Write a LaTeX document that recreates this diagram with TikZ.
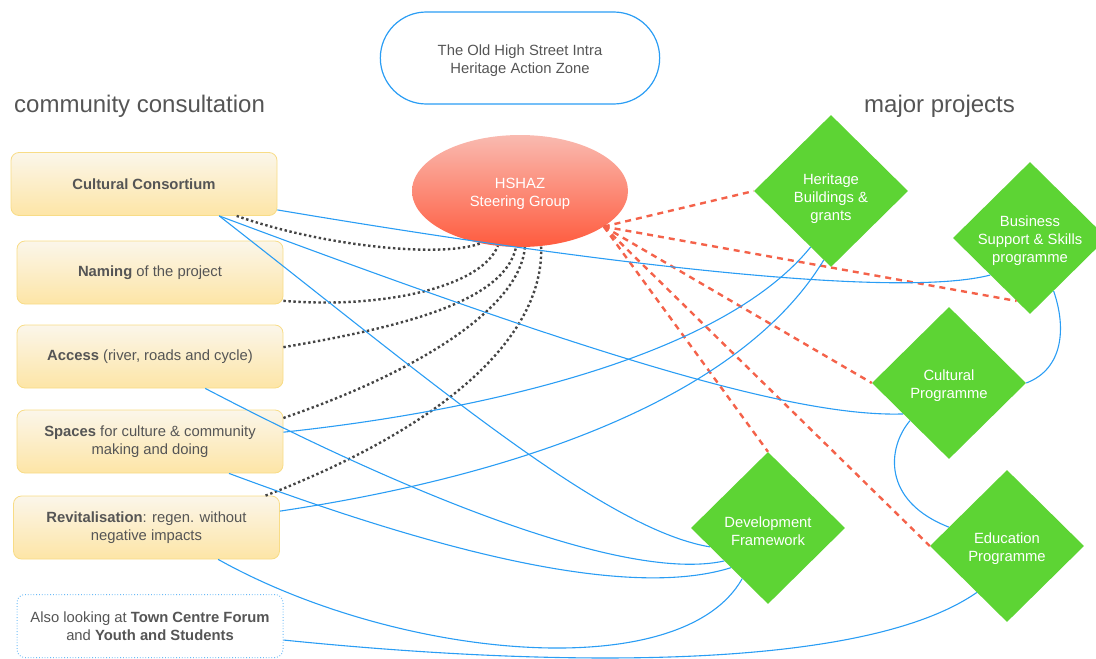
\documentclass[tikz,border=0pt]{standalone}
\usepackage{fontspec}
\setmainfont{Liberation Sans}
\usetikzlibrary{shapes.geometric}
\usetikzlibrary{shapes.misc}

\definecolor{boxtop}{HTML}{FBF6EA}
\definecolor{boxbot}{HTML}{FDE5A6}
\definecolor{boxline}{HTML}{F8DC86}
\definecolor{projgreen}{HTML}{5DD434}
\definecolor{sgtop}{HTML}{F9BAB0}
\definecolor{sgbot}{HTML}{FF5B3E}
\definecolor{linkblue}{HTML}{2A9DF4}
\definecolor{dashred}{HTML}{F4624A}
\definecolor{dotgray}{HTML}{444444}
\definecolor{txtgray}{HTML}{555555}

\tikzset{
  consult/.style={draw=boxline, line width=0.8pt, rounded corners=8pt,
    top color=boxtop, bottom color=boxbot, minimum width=266pt,
    minimum height=63pt, align=center, text=txtgray,
    font=\fontsize{14.8}{18}\selectfont},
  alsobox/.style={consult, draw=linkblue!70, dotted, line width=1pt,
    top color=white, bottom color=white},
  titlebox/.style={rounded rectangle, draw=linkblue, line width=1.2pt,
    minimum width=286pt, minimum height=92pt},
  steer/.style={ellipse, top color=sgtop, bottom color=sgbot,
    minimum width=216pt, minimum height=112pt},
  proj/.style={diamond, fill=projgreen, minimum width=154pt,
    minimum height=152pt, inner sep=0pt},
  nodetext/.style={align=center, inner sep=0pt, yshift=-3pt,
    font=\fontsize{14.8}{18}\selectfont},
  heading/.style={text=txtgray, inner sep=0pt, font=\fontsize{24}{28}\selectfont},
  bluelink/.style={draw=linkblue, line width=1.1pt},
  dotlink/.style={draw=dotgray, line width=2.4pt, dash pattern=on 2.4pt off 2.6pt},
  redlink/.style={draw=dashred, line width=2.4pt, dash pattern=on 6pt off 5pt}
}

\begin{document}
\begin{tikzpicture}[x=1pt,y=-1pt]
	\useasboundingbox (0,0) rectangle (1096,659);

	% title and headings
	\node[titlebox] (title) at (520,58) {};
	\node[nodetext, text=txtgray] (titletext) at (title.center) {The Old High Street Intra\\Heritage Action Zone};
	\node[heading, anchor=west] (hcons) at (14,106) {community consultation};
	\node[heading, anchor=west] (hproj) at (864,106) {major projects};

	\node[steer] (sg) at (520,191) {};
	\node[nodetext, text=white] (sgtext) at (sg.center) {HSHAZ\\Steering Group};

	% community consultation
	\node[consult] (cc) at (144,184) {\textbf{Cultural Consortium}};
	\node[consult] (nam) at (150,272.5) {\textbf{Naming} of the project};
	\node[consult] (acc) at (150,356.5) {\textbf{Access} (river, roads and cycle)};
	\node[consult] (spa) at (150,441.5) {\textbf{Spaces} for culture \& community\\making and doing};
	\node[consult] (rev) at (146.5,527.5) {\textbf{Revitalisation}: regen. without\\negative impacts};
	\node[alsobox] (also) at (150,626) {Also looking at \textbf{Town Centre Forum}\\and \textbf{Youth and Students}};

	% major projects
	\node[proj] (her) at (831,191) {};
	\node[proj] (bus) at (1030,238) {};
	\node[proj] (cul) at (949,383) {};
	\node[proj] (dev) at (768,528) {};
	\node[proj] (edu) at (1007,546) {};
	\node[nodetext, text=white] (hertext) at ([yshift=-5pt]her.center) {Heritage\\Buildings \&\\grants};
	\node[nodetext, text=white] (bustext) at (bus.center) {Business\\Support \& Skills\\programme};
	\node[nodetext, text=white] (cultext) at (cul.center) {Cultural\\Programme};
	\node[nodetext, text=white] (devtext) at (dev.center) {Development\\Framework};
	\node[nodetext, text=white] (edutext) at (edu.center) {Education\\Programme};

	% consultation to steering group
	\draw[dotlink] (cc.-19) .. controls +(85,30) and +(-40,15) .. (sg.-127);
	\draw[dotlink] (nam.-12) .. controls +(97,8) and +(-17,42) .. (sg.-112);
	\draw[dotlink] (acc.4) .. controls +(137,-23) and +(-11,50) .. (sg.-94);
	\draw[dotlink] (spa.10) .. controls +(137,-47) and +(-5,60) .. (sg.-85);
	\draw[dotlink] (rev.15) .. controls +(196,-76) and +(3,82) .. (sg.-69);

	% steering group to projects
	\draw[redlink] (sg.-23) -- (her.west);
	\draw[redlink] (sg.-23) -- (bus.-102);
	\draw[redlink] (sg.-23) -- (cul.west);
	\draw[redlink] (sg.-23) -- (dev.north);
	\draw[redlink] (sg.-23) -- (edu.west);

	% consultation to projects
	\draw[bluelink] (cc.-11) .. controls +(344,58) and +(-88,23) .. (bus.-137);
	\draw[bluelink] (cc.-23) .. controls +(329,123) and +(-120,4) .. (cul.-146);
	\draw[bluelink] (cc.-23) .. controls +(209,163) and +(-107,-18) .. (dev.-162);
	\draw[bluelink] (acc.-30) .. controls +(195,102) and +(-101,22) .. (dev.-143);
	\draw[bluelink] (spa.-22) .. controls +(193,72) and +(-109,34) .. (dev.-133);
	\draw[bluelink] (spa.4.5) .. controls +(197,-21) and +(-89,110) .. (her.-110);
	\draw[bluelink] (rev.7) .. controls +(241,-36) and +(-83,137) .. (her.-96);
	\draw[bluelink] (rev.-24) .. controls +(179,100) and +(-61,108) .. (dev.-117);
	\draw[bluelink] (also.-6) .. controls +(266,27) and +(-115,80) .. (edu.-123);

	% between projects
	\draw[bluelink] (bus.-66) .. controls +(13,37) and +(37,-14) .. (cul.east);
	\draw[bluelink] (cul.-136) .. controls +(-23,27) and +(-67,-26) .. (edu.162);

\end{tikzpicture}
\end{document}
